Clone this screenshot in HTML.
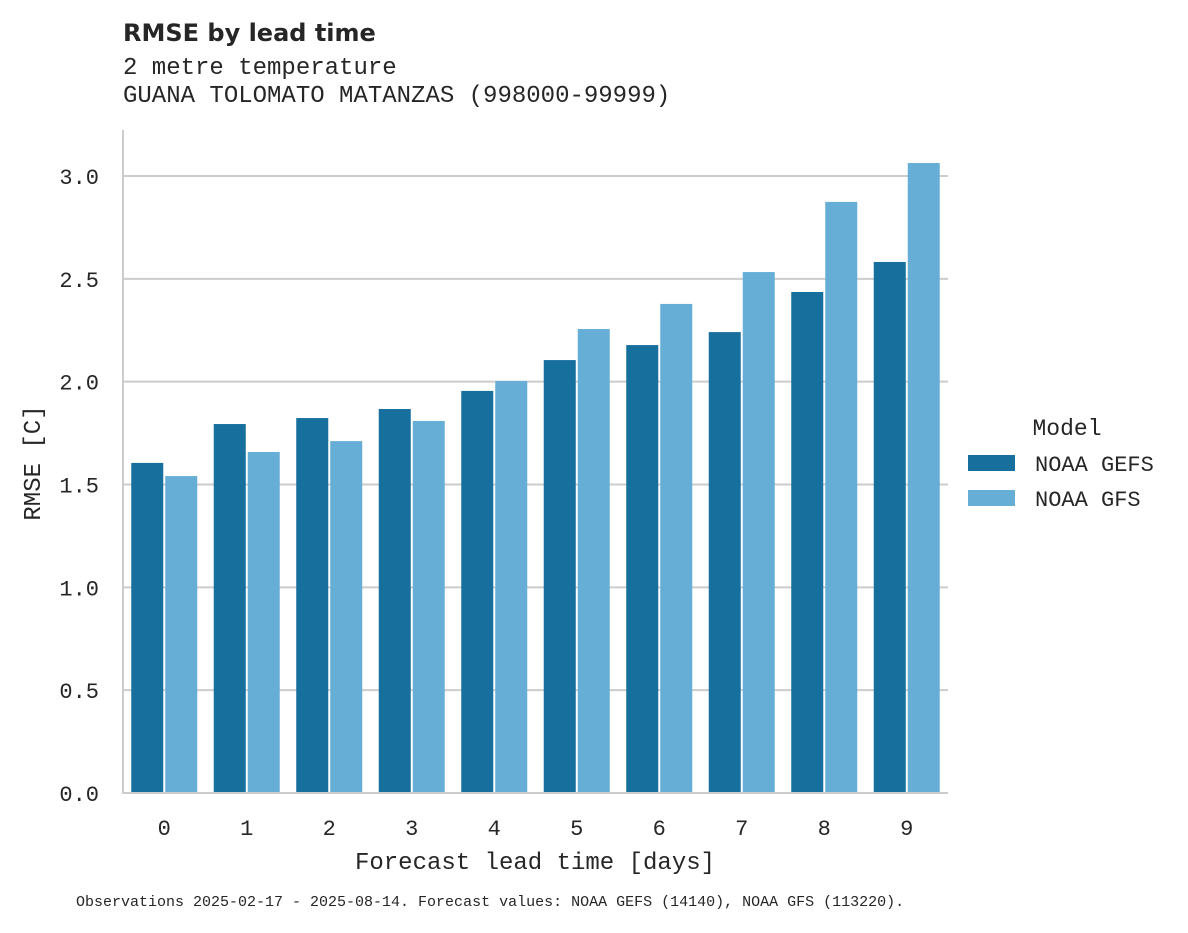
<!DOCTYPE html>
<html><head><meta charset="utf-8"><style>
body{margin:0;background:#fff;}
svg text{font-family:"Liberation Mono","DejaVu Sans Mono",monospace;fill:#262626;}
</style></head><body>
<svg id="chart" width="1188" height="928" xmlns="http://www.w3.org/2000/svg">
<text x="123" y="41" style="font-family:'DejaVu Sans','Liberation Sans',sans-serif;font-weight:bold;font-size:24px">RMSE by lead time</text>
<text x="123" y="74" font-size="24">2 metre temperature</text>
<text x="123" y="102" font-size="24">GUANA TOLOMATO MATANZAS (998000-99999)</text>
<g id="grid"></g>
<g id="bars"></g>
<g id="axes"></g>
<text transform="translate(40,463) rotate(-90)" text-anchor="middle" font-size="24">RMSE [C]</text>
<text x="535" y="869" text-anchor="middle" font-size="24">Forecast lead time [days]</text>
<g>
<text x="1067" y="435" text-anchor="middle" font-size="23">Model</text>
<rect x="968" y="455" width="47" height="16" fill="#176f9e"/>
<text x="1035" y="471" font-size="22">NOAA GEFS</text>
<rect x="968" y="490" width="47" height="16" fill="#67aed6"/>
<text x="1035" y="506" font-size="22">NOAA GFS</text>
</g>
<text x="76" y="906" font-size="15">Observations 2025-02-17 - 2025-08-14. Forecast values: NOAA GEFS (14140), NOAA GFS (113220).</text>
</svg>
<script>
const categories=["0","1","2","3","4","5","6","7","8","9"];
const gefs=[1.605,1.794,1.823,1.867,1.955,2.105,2.178,2.241,2.436,2.582];
const gfs=[1.541,1.658,1.711,1.809,2.003,2.256,2.378,2.533,2.874,3.063];
const yTicks=[0,0.5,1.0,1.5,2.0,2.5,3.0];
const yTickLabels=["0.0","0.5","1.0","1.5","2.0","2.5","3.0"];
const NS="http://www.w3.org/2000/svg";
const X0=123,X1=948,Y0=793,Y3=176;
function y(v){return Y0-(Y0-Y3)*v/3;}
const bw=(X1-X0)/categories.length;
function x(i){return X0+bw*i;}
function mk(tag,attrs,parent){const e=document.createElementNS(NS,tag);for(const k in attrs)e.setAttribute(k,attrs[k]);parent.appendChild(e);return e;}
const grid=document.getElementById('grid'),bars=document.getElementById('bars'),axes=document.getElementById('axes');
yTicks.forEach((t,i)=>{
 if(t>0){const l=mk('line',{x1:X0,x2:X1,y1:y(t),y2:y(t),stroke:'#cccccc','stroke-width':2},grid);
 
 }
 const tx=mk('text',{x:99,y:y(t)+8,'text-anchor':'end','font-size':22},axes);
 tx.textContent=yTickLabels[i];
 
 
});
const gap=2,inner=bw*0.8,half=inner/2;
categories.forEach((c,i)=>{
 const s=x(i)+bw*0.1;
 const b1=mk('rect',{x:s,y:y(gefs[i]),width:half-gap/2,height:Y0-y(gefs[i]),fill:'#176f9e'},bars);
 
 
 const b2=mk('rect',{x:s+half+gap/2,y:y(gfs[i]),width:half-gap/2,height:Y0-y(gfs[i]),fill:'#67aed6'},bars);
 
 
 const tx=mk('text',{x:x(i)+bw/2,y:835,'text-anchor':'middle','font-size':22},axes);
 tx.textContent=c;
 
 
});
const ls=mk('line',{x1:X0,x2:X0,y1:130,y2:Y0+1,stroke:'#cccccc','stroke-width':2},axes);


const bs=mk('line',{x1:X0,x2:X1,y1:Y0,y2:Y0,stroke:'#cccccc','stroke-width':2},axes);


</script>
</body></html>
